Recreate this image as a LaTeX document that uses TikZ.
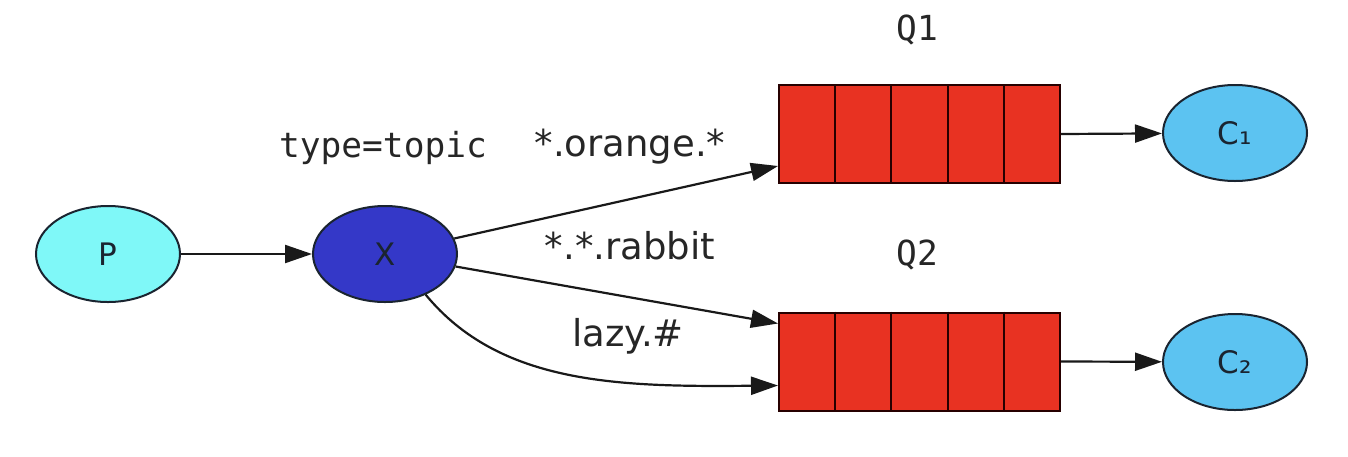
\documentclass[tikz,border=0pt]{standalone}
\usepackage{fontspec}
\setmainfont{DejaVu Sans}
\newfontfamily\monof{DejaVu Sans Mono}
\usetikzlibrary{shapes.geometric,arrows.meta,calc}
\definecolor{pcol}{HTML}{7FF8F8}
\definecolor{xcol}{HTML}{3438C8}
\definecolor{ccol}{HTML}{5CC3F1}
\definecolor{qcol}{HTML}{E83222}
\definecolor{edgecol}{HTML}{1A2430}
\tikzset{
  ell/.style={ellipse, draw=edgecol, line width=2pt, minimum width=144pt, minimum height=96pt, inner sep=0pt, font=\fontsize{31}{36}\selectfont, text=edgecol},
  qbox/.style={rectangle, draw=black!85!red, line width=2pt, fill=qcol, minimum width=281pt, minimum height=98pt, inner sep=0pt},
  qdiv/.style={draw=black!85!red, line width=2pt},
  conn/.style={draw=black!90, line width=2.2pt, -{Triangle[length=27pt,width=18pt]}},
  lbl/.style={font=\fontsize{37}{42}\selectfont, text=black!85},
  mlbl/.style={font=\monof\fontsize{34.5}{40}\selectfont, text=black!85},
}
\begin{document}
\begin{tikzpicture}[x=1pt,y=-1pt]
\useasboundingbox (0,0) rectangle (1348,456);
\node[ell, fill=pcol] (P) at (108,254) {P};
\node[ell, fill=xcol] (X) at (385,254) {X};
\node[qbox] (q1) at (919.5,134) {};
\node[qbox] (q2) at (919.5,361.5) {};
\foreach \q in {q1,q2}{
  \foreach \i in {1,2,3,4}{
    \draw[qdiv] ($(\q.north west)!\i/5!(\q.north east)$) -- ($(\q.south west)!\i/5!(\q.south east)$);
  }
}
\node[ell, fill=ccol] (C1) at (1235,133) {C₁};
\node[ell, fill=ccol] (C2) at (1235,362) {C₂};
\node[mlbl] (tt) at (383,148) {type=topic};
\node[mlbl] (Q1l) at (917,30) {Q1};
\node[mlbl] (Q2l) at (917,255) {Q2};
\node[lbl] (lo) at (630,147) {*.orange.*};
\node[lbl] (lr) at (630,246) {*.*.rabbit};
\node[lbl] (ll) at (628,336) {lazy.\#};
\coordinate (q1in) at ([yshift=-32pt]q1.west);
\coordinate (q2a) at ([yshift=38pt]q2.west);
\coordinate (q2b) at ([yshift=-24pt]q2.west);
\draw[conn] (P) -- (X);
\draw[conn] (X) -- (q1in);
\draw[conn] (X) -- (q2a);
\draw[conn] (X.-45) .. controls (500,385) and (620,387) .. (q2b);
\draw[conn] (q1.east) -- (C1);
\draw[conn] (q2.east) -- (C2);
\end{tikzpicture}
\end{document}
